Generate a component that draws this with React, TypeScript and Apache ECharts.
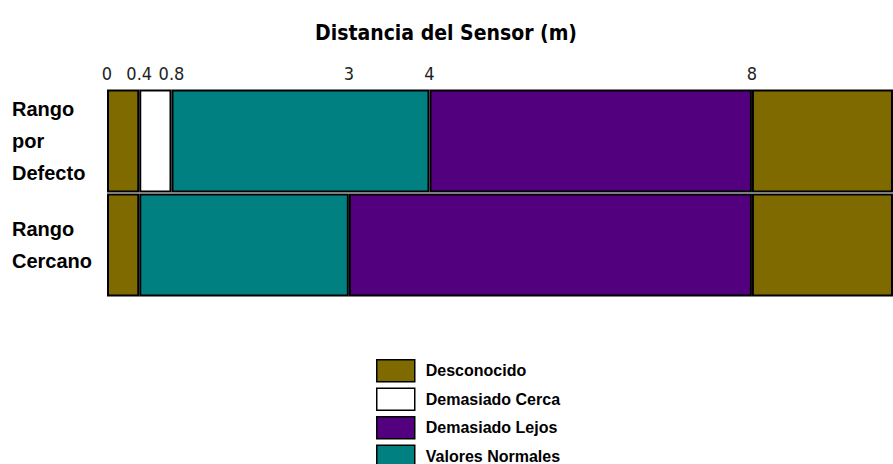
import React, { useEffect, useRef } from "react";
import * as echarts from "echarts";

const categories = ["Rango por Defecto", "Rango Cercano"];
const categoryLabels = ["Rango\npor\nDefecto", "Rango\nCercano"];
const tickValues = [0, 0.4, 0.8, 3, 4, 8];
const axisMax = 9.75;

// segment lengths (m), stacked left to right
const desconocidoNear = [0.4, 0.4];
const demasiadoCerca: (number | string)[] = [0.4, "-"];
const valoresNormales = [3.2, 2.6];
const demasiadoLejos = [4, 5];
const desconocidoFar = [1.75, 1.75];

const seriesNames = ["Desconocido", "Demasiado Cerca", "Demasiado Lejos", "Valores Normales"];
const colors: Record<string, string> = {
  "Desconocido": "#7f6a00",
  "Demasiado Cerca": "#ffffff",
  "Demasiado Lejos": "#53007f",
  "Valores Normales": "#008080",
};

const narrow = "'Liberation Sans Narrow', 'DejaVu Sans Condensed', 'Liberation Sans', sans-serif";

export default function App() {
  const ref = useRef<HTMLDivElement>(null);
  useEffect(() => {
    if (!ref.current) return;
    const chart = echarts.init(ref.current, null, { renderer: "svg" });
    const mk = (name: string, data: (number | string)[]) => ({
      name,
      type: "bar",
      stack: "total",
      data,
      barCategoryGap: "1%",
      itemStyle: { color: colors[name], borderColor: "#000", borderWidth: 2 },
      emphasis: { disabled: true },
    });
    chart.setOption({
      animation: false,
      title: {
        text: "Distancia del Sensor (m)",
        left: 441,
        textAlign: "center",
        top: 17,
        textStyle: {
          fontFamily: narrow,
          fontWeight: "bold",
          fontSize: 21,
          color: "#000",
        },
      },
      grid: { left: 107, right: 0, top: 89, bottom: 167, containLabel: false },
      xAxis: {
        type: "value",
        position: "top",
        min: 0,
        max: axisMax,
        splitLine: { show: false },
        axisLine: { show: false },
        axisTick: { show: false },
        axisLabel: {
          customValues: tickValues,
          margin: 7,
          fontFamily: narrow,
          fontSize: 18,
          color: "#222",
          formatter: (v: number) => String(v),
        },
      },
      yAxis: {
        type: "category",
        inverse: true,
        data: categories,
        axisLine: { show: false },
        axisTick: { show: false },
        axisLabel: {
          align: "left",
          margin: 95,
          fontFamily: "Liberation Sans",
          fontWeight: "bold",
          fontSize: 20,
          lineHeight: 32,
          color: "#000",
          formatter: (v: string) => categoryLabels[categories.indexOf(v)],
        },
      },
      legend: {
        data: seriesNames,
        orient: "vertical",
        left: 376,
        top: 359,
        height: 110,
        padding: 0,
        itemWidth: 38,
        itemHeight: 22,
        itemGap: 5,
        icon: "rect",
        selectedMode: false,
        itemStyle: { borderColor: "#000", borderWidth: 1.5 },
        textStyle: {
          fontFamily: "Liberation Sans",
          fontWeight: "bold",
          fontSize: 16,
          color: "#000",
          padding: [0, 0, 0, 6],
        },
      },
      series: [
        mk("Desconocido", desconocidoNear),
        mk("Demasiado Cerca", demasiadoCerca),
        mk("Valores Normales", valoresNormales),
        mk("Demasiado Lejos", demasiadoLejos),
        mk("Desconocido", desconocidoFar),
      ],
    });
    return () => chart.dispose();
  }, []);
  return <div ref={ref} style={{ width: 893, height: 464, position: "absolute", left: 0, top: 0 }} />;
}
